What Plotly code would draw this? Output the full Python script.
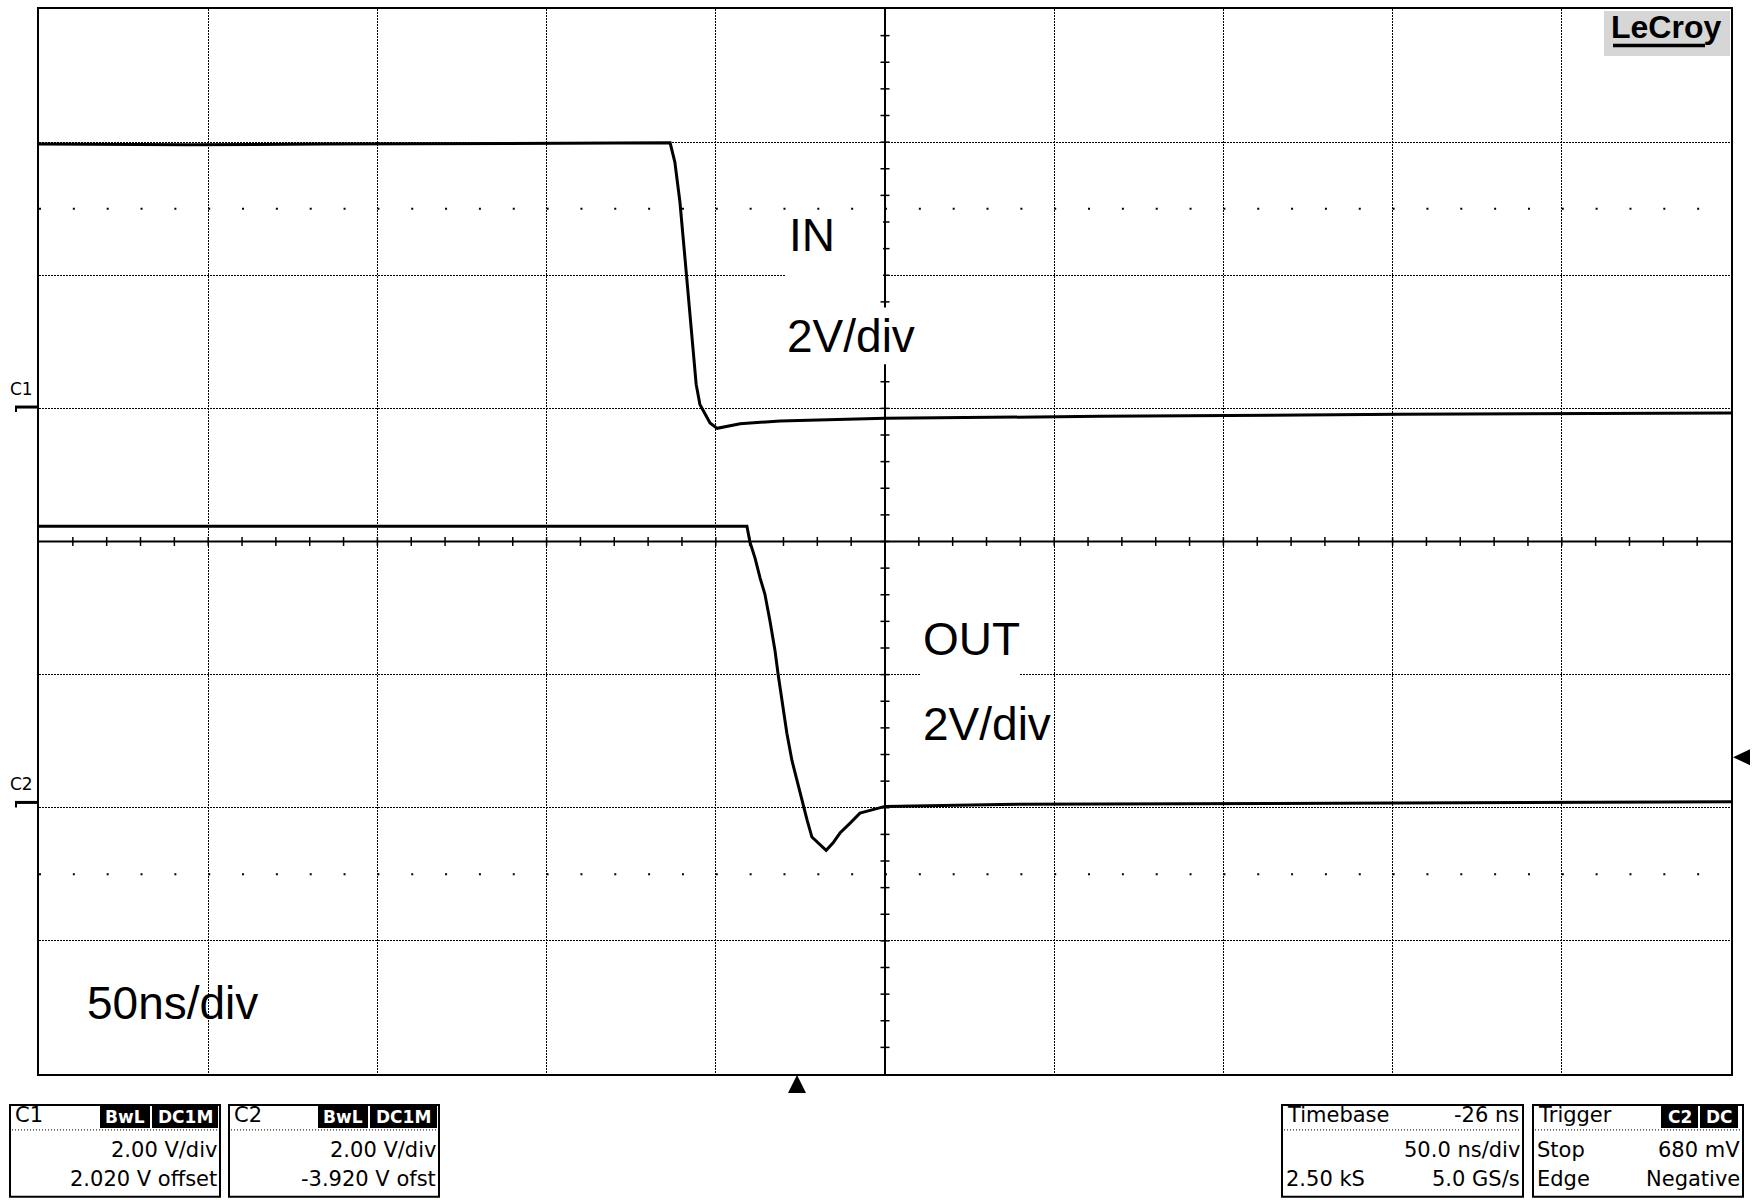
import plotly.graph_objects as go

# scope settings, from the on-screen readout
NS_PER_DIV = 50.0
TRIG_DELAY = -26.0            # trigger sits 26 ns left of screen centre
H_DIVS, V_DIVS = 10, 8
C1_VDIV, C1_OFST = 2.0, 2.020
C2_VDIV, C2_OFST = 2.0, -3.920
TRIG_LEVEL = 0.680            # V on C2, negative edge

# IN (C1) waveform, time in ns from trigger, volts
in_t = [-224, -180, -140, -100, -60, -37.5, -36.1, -34.6, -33.1, -31.0, -29.8, -28.7,
        -27.2, -25.7, -23.6, -16.8, -5.0, 26, 89.5, 178, 276]
in_v = [3.95, 3.94, 3.95, 3.96, 3.97, 3.97, 3.68, 3.08, 2.23, 1.09, 0.34, 0.04,
        -0.11, -0.24, -0.32, -0.25, -0.21, -0.17, -0.14, -0.11, -0.09]

# OUT (C2) waveform
out_t = [-224, -150, -80, -30, -14.8, -13.9, -12.4, -10.9, -9.5, -8.0, -6.5, -5.6,
         -4.4, -3.0, -1.5, 0.0, 1.5, 3.0, 4.4, 6.2, 8.6, 10.6, 12.7, 15.7, 18.6,
         21.6, 26, 60, 150, 276]
out_v = [4.15, 4.15, 4.16, 4.15, 4.15, 3.91, 3.67, 3.37, 3.13, 2.73, 2.28, 1.93,
         1.53, 1.04, 0.63, 0.33, -0.01, -0.27, -0.52, -0.61, -0.72, -0.61, -0.46,
         -0.31, -0.16, -0.12, -0.06, -0.03, -0.01, 0.01]

# readout boxes at the bottom
box_titles = ["C1", "C2", "Timebase", "Trigger"]
box_badges = [["BwL", "DC1M"], ["BwL", "DC1M"], [], ["C2", "DC"]]
box_head_right = ["", "", "-26 ns", ""]
box_row2 = [("", "2.00 V/div"), ("", "2.00 V/div"), ("", "50.0 ns/div"), ("Stop", "680 mV")]
box_row3 = [("", "2.020 V offset"), ("", "-3.920 V ofst"), ("2.50 kS", "5.0 GS/s"), ("Edge", "Negative")]

# ---------------------------------------------------------------
W_PX, H_PX = 1755, 1200
L, R, T, B = 39, 24, 7, 126
PW, PH = W_PX - L - R, H_PX - T - B

t_center = -TRIG_DELAY
t_min = t_center - NS_PER_DIV * H_DIVS / 2
t_max = t_center + NS_PER_DIV * H_DIVS / 2


def fx(px):
    return (px - L) / PW


def fy(py):
    return (T + PH - py) / PH


def xpx(t):
    return L + (t - t_min) / (t_max - t_min) * PW


def ypx(div):
    return T + (V_DIVS / 2 - div) / V_DIVS * PH


def to_div(v, vdiv, ofst):
    return [(x + ofst) / vdiv for x in v]


BIG = "Liberation Sans, Arial, sans-serif"
UI = "DejaVu Sans, sans-serif"

fig = go.Figure()
fig.add_trace(go.Scatter(x=in_t, y=to_div(in_v, C1_VDIV, C1_OFST), mode='lines',
                         line=dict(color='black', width=3), hoverinfo='skip'))
fig.add_trace(go.Scatter(x=out_t, y=to_div(out_v, C2_VDIV, C2_OFST), mode='lines',
                         line=dict(color='black', width=3), hoverinfo='skip'))

shapes = []
# centre axes with minor ticks every 1/5 div
shapes.append(dict(type='line', xref='x', yref='y', x0=t_center, x1=t_center, y0=-4, y1=4,
                   line=dict(color='black', width=2)))
shapes.append(dict(type='line', xref='x', yref='y', x0=t_min, x1=t_max, y0=0, y1=0,
                   line=dict(color='black', width=2)))
step = NS_PER_DIV / 5
for k in range(-24, 25):
    t = t_center + k * step
    shapes.append(dict(type='line', xref='x', yref='y', x0=t, x1=t, ysizemode='pixel',
                       yanchor=0, y0=-4.5, y1=4.5, line=dict(color='black', width=1.5)))
for k in range(-19, 20):
    y = k * 0.2
    shapes.append(dict(type='line', xref='x', yref='y', y0=y, y1=y, xsizemode='pixel',
                       xanchor=t_center, x0=-4.5, x1=4.5, line=dict(color='black', width=1.5)))
# dotted rows at +-2.5 div
minor_px = PW / (H_DIVS * 5)
for y in (2.5, -2.5):
    shapes.append(dict(type='line', xref='x', yref='y', x0=t_min, x1=t_max, y0=y, y1=y,
                       line=dict(color='black', width=2, dash=f"2px,{minor_px - 2:.2f}px")))

# white boxes behind the big labels
for x0, y0, x1, y1 in [(785, 212, 883, 290), (785, 306, 915, 363),
                       (921, 612, 1020, 680), (921, 700, 1052, 748)]:
    shapes.append(dict(type='rect', xref='paper', yref='paper', x0=fx(x0), x1=fx(x1),
                       y0=fy(y1), y1=fy(y0), fillcolor='white', line=dict(width=0)))

annotations = []


def txt(text, x, y, size, anchor='left', color='black', family=BIG):
    annotations.append(dict(text=text, x=fx(x), y=fy(y), xref='paper', yref='paper',
                            xanchor=anchor, yanchor='middle', showarrow=False,
                            font=dict(size=size, color=color, family=family)))


for s, x, y in [("IN", 787, 233.5), ("2V/div", 785, 335), ("OUT", 921, 638),
                ("2V/div", 921, 723), ("50ns/div", 85, 1003)]:
    txt(s, x, y, 46)

# LeCroy logo
shapes.append(dict(type='rect', xref='paper', yref='paper', x0=fx(1604), x1=fx(1730),
                   y0=fy(54), y1=fy(9), fillcolor='#d6d6d6', line=dict(width=0)))
shapes.append(dict(type='line', xref='paper', yref='paper', x0=fx(1613), x1=fx(1705),
                   y0=fy(43.5), y1=fy(43.5), line=dict(color='black', width=3.5)))
txt("<b>LeCroy</b>", 1609, 25, 32)

# channel ground markers on the left
for name, vdiv, ofst in [("C1", C1_VDIV, C1_OFST), ("C2", C2_VDIV, C2_OFST)]:
    yp = ypx(ofst / vdiv)
    shapes.append(dict(type='line', xref='paper', yref='paper', x0=fx(15), x1=fx(38),
                       y0=fy(yp), y1=fy(yp), line=dict(color='black', width=3)))
    shapes.append(dict(type='line', xref='paper', yref='paper', x0=fx(16), x1=fx(16),
                       y0=fy(yp), y1=fy(yp + 5), line=dict(color='black', width=2)))
    txt(name, 8, yp - 18, 17, family=UI)

# trigger position (bottom) and level (right) arrows
tx = xpx(0)
shapes.append(dict(type='path', xref='paper', yref='paper', fillcolor='black', line=dict(width=0),
                   path=f"M {fx(tx)},{fy(1075)} L {fx(tx - 9)},{fy(1093)} L {fx(tx + 9)},{fy(1093)} Z"))
ty = ypx((TRIG_LEVEL + C2_OFST) / C2_VDIV)
shapes.append(dict(type='path', xref='paper', yref='paper', fillcolor='black', line=dict(width=0),
                   path=f"M {fx(1733)},{fy(ty)} L {fx(1750)},{fy(ty - 8)} L {fx(1750)},{fy(ty + 8)} Z"))

# readout boxes
box_x = [(10, 220), (229, 439), (1282, 1523), (1533, 1743)]
badge_x = [[(100, 150), (152, 218)], [(318, 368), (370, 437)], [], [(1661, 1698), (1700, 1738)]]
for i, (x0, x1) in enumerate(box_x):
    shapes.append(dict(type='rect', xref='paper', yref='paper', x0=fx(x0), x1=fx(x1),
                       y0=fy(1197), y1=fy(1105), line=dict(color='black', width=2)))
    shapes.append(dict(type='line', xref='paper', yref='paper', x0=fx(x0 + 2), x1=fx(x1 - 2),
                       y0=fy(1130), y1=fy(1130), line=dict(color='black', width=1, dash='1px,2px')))
    txt(box_titles[i], x0 + 3, 1115, 21, family=UI)
    if box_head_right[i]:
        txt(box_head_right[i], x1 - 2, 1115, 21, anchor='right', family=UI)
    for label, (bx0, bx1) in zip(box_badges[i], badge_x[i]):
        shapes.append(dict(type='rect', xref='paper', yref='paper', x0=fx(bx0), x1=fx(bx1),
                           y0=fy(1128), y1=fy(1106), fillcolor='black', line=dict(width=0)))
        txt(f"<b>{label}</b>", (bx0 + bx1) / 2, 1117, 17, anchor='center', color='white', family=UI)
    for (lt, rt), yy in [(box_row2[i], 1150), (box_row3[i], 1179)]:
        if lt:
            txt(lt, x0 + 2, yy, 21, family=UI)
        if rt:
            txt(rt, x1 - 1, yy, 21, anchor='right', family=UI)

grid = dict(showgrid=True, gridcolor='black', gridwidth=1, griddash='1.5px,1.5px',
            zeroline=False, showticklabels=False, ticks='', showline=True, mirror=True,
            linecolor='black', linewidth=2, fixedrange=True)
fig.update_layout(
    width=W_PX, height=H_PX,
    margin=dict(l=L, r=R, t=T, b=B),
    paper_bgcolor='white', plot_bgcolor='white',
    showlegend=False,
    shapes=shapes, annotations=annotations,
    xaxis=dict(range=[t_min, t_max], tick0=t_center, dtick=NS_PER_DIV, **grid),
    yaxis=dict(range=[-V_DIVS / 2, V_DIVS / 2], tick0=0, dtick=1, **grid),
)

# the page's default body margin would push the 1755x1200 figure off its spot
fig.write_html("out.html", config={'displayModeBar': False},
               post_script="document.body.style.margin='0px';")
